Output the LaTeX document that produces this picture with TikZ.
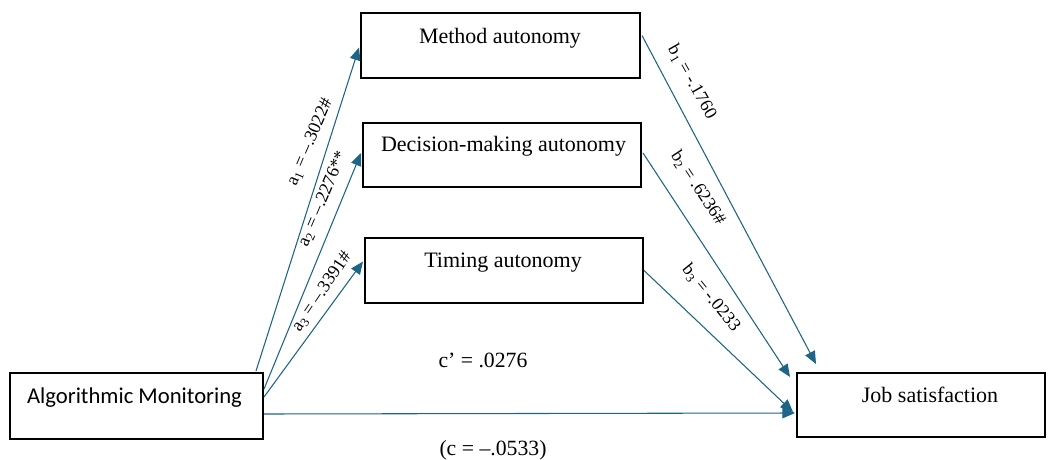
\documentclass[tikz,border=0pt]{standalone}
\usepackage{fontspec}
\setmainfont{Liberation Serif}
\newfontfamily\amfont{Carlito}
\usetikzlibrary{arrows.meta,calc}
\definecolor{pathblue}{RGB}{30,100,135}
\tikzset{
  box/.style={draw=black, line width=1.5pt, fill=white, inner sep=0pt},
  boxtext/.style={anchor=base, inner sep=0pt, font=\fontsize{16.5}{18}\selectfont},
  path/.style={draw=pathblue, line width=0.8pt, -{Triangle[length=9.5pt,width=8pt]}},
  coef/.style={inner sep=0pt, font=\fontsize{13.5}{15}\selectfont},
  effect/.style={anchor=base, inner sep=0pt, font=\fontsize{16.3}{18}\selectfont},
}
\begin{document}
\begin{tikzpicture}[x=0.75pt, y=-0.75pt]
\useasboundingbox (0,0) rectangle (1052,460);

% boxes (widths and heights in pt)
\node[box, minimum width=209.25pt, minimum height=48.75pt] (ma) at (500.5,45.5) {};
\node[box, minimum width=208.5pt, minimum height=48pt] (dm) at (502,155) {};
\node[box, minimum width=208.5pt, minimum height=48.75pt] (ta) at (504,270.5) {};
\node[box, minimum width=189.75pt, minimum height=49.5pt] (am) at (136.5,406) {};
\node[box, minimum width=186pt, minimum height=48pt] (js) at (921,405) {};

% box labels, set in the upper part of each box
\node[boxtext] at (500,44) {Method autonomy};
\node[boxtext] at (503.5,151) {Decision-making autonomy};
\node[boxtext] at (503,267) {Timing autonomy};
\node[boxtext] at (930,402) {Job satisfaction};
\node[anchor=base, inner sep=0pt, font=\amfont\fontsize{17}{19}\selectfont] at (134.5,403) {Algorithmic Monitoring};

% a paths: monitoring -> mediators
\draw[path] ($(am.north east)+(-8,-1)$) -- ($(ma.west)+(-1,2)$);
\draw[path] ($(am.north east)+(0,17)$) -- ($(dm.west)+(-1,-2)$);
\draw[path] ($(am.north east)+(0,25)$) -- ($(ta.west)+(-1,-9)$);

% b paths: mediators -> satisfaction
\draw[path] ($(ma.east)+(1,-10)$) -- ($(js.north west)+(20,-8)$);
\draw[path] ($(dm.east)+(1,-2)$) -- ($(js.north west)+(-6,5)$);
\draw[path] (ta.east) -- ($(js.west)+(-3,7)$);

% direct path
\draw[path] ($(am.east)+(0,8)$) -- ($(js.west)+(-1,8)$);

% coefficients
\node[coef, rotate=67] at (310,142) {a\textsubscript{1} = --.3022\#};
\node[coef, rotate=67] at (323,199) {a\textsubscript{2} = --.2276**};
\node[coef, rotate=56] at (322,292) {a\textsubscript{3} = --.3391\#};
\node[coef, rotate=-60.5] at (692,82) {b\textsubscript{1} = -.1760};
\node[coef, rotate=-56.5] at (698,188) {b\textsubscript{2} = .6236\#};
\node[coef, rotate=-51] at (711,298) {b\textsubscript{3} = -.0233};

\node[effect] at (483,367) {c’ = .0276};
\node[effect] at (493,455) {(c = --.0533)};
\end{tikzpicture}
\end{document}
